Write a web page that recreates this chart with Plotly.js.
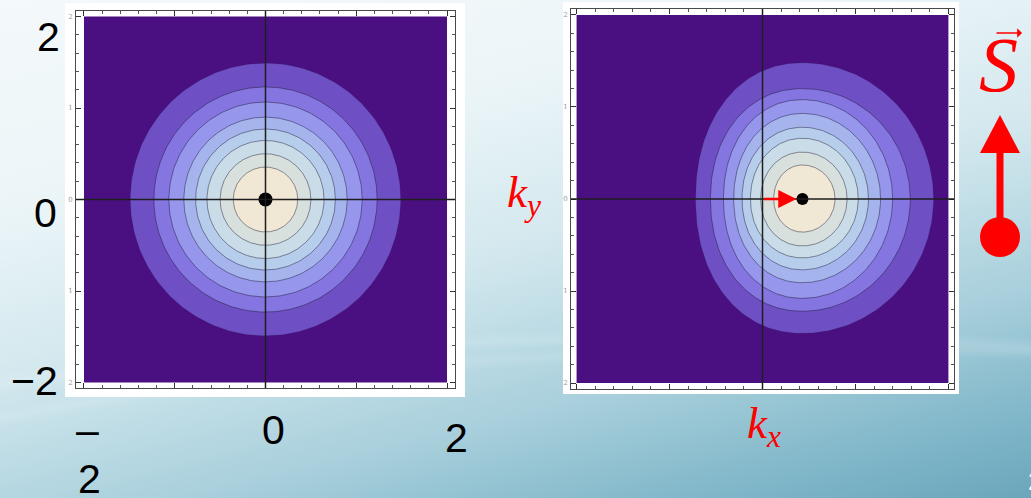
<!DOCTYPE html>
<html>
<head>
<meta charset="utf-8">
<script src="https://cdn.plot.ly/plotly-3.0.1.min.js"></script>
<style>
  html, body { margin: 0; padding: 0; width: 1031px; height: 498px; overflow: hidden; }
  body {
    background:
      radial-gradient(ellipse 1150px 200px at 700px 520px, rgba(255,255,255,0) 87%, rgba(255,255,255,0.13) 91%, rgba(255,255,255,0) 96%),
      radial-gradient(ellipse 1300px 250px at 850px 580px, rgba(255,255,255,0) 89%, rgba(255,255,255,0.10) 92%, rgba(255,255,255,0) 95%),
      linear-gradient(166deg, #f4f9fb 0%, #ebf5f8 28%, #d3e8ee 50%, #a9d0dc 72%, #82b8ca 88%, #6ba6bc 100%);
  }
  #chart { width: 1031px; height: 498px; }
</style>
</head>
<body>
<div id="chart"></div>
<script>
// Momentum-space density k = (kx, ky): filled contour levels, outermost to innermost
const kRange = [-2, 2];
const levelColors = ['#4a1082', '#6e50c4', '#8475e0', '#9696ec', '#a6b4ee', '#b7cdec', '#c9dce8', '#d8e0de', '#f0e7d4'];

// Left panel: unshifted distribution, circular contours about the origin
const leftCentre = [0, 0];
const leftRadii = [1.49, 1.23, 1.065, 0.90, 0.77, 0.645, 0.50, 0.355];

// Right panel: distribution shifted along kx, contour extents per level
const rightCentre = [0.43, 0];
const rightLeft   = [-0.72, -0.56, -0.42, -0.31, -0.22, -0.13, -0.02, 0.12];
const rightRight  = [1.84, 1.59, 1.40, 1.27, 1.14, 1.03, 0.91, 0.78];
const rightTop    = [1.48, 1.20, 1.08, 0.93, 0.78, 0.66, 0.51, 0.37];
const rightBottom = [-1.46, -1.22, -1.08, -0.91, -0.77, -0.64, -0.51, -0.36];

// Frame ticks and the large slide tick labels
const frameTicks = [-2, -1, 0, 1, 2];
const slideYLabels = ['2', '0', '\u22122'];
const slideXLabels = ['\u2013', '2', '0', '2'];

const W = 1031, H = 498;
const px = x => x / W;
const py = y => 1 - y / H;

// closed contour: elliptical on the right half, slightly squared on the left half
function contour(cx, cy, xl, xr, yt, yb, nLeft) {
  const xs = [], ys = [];
  const N = 240;
  for (let i = 0; i <= N; i++) {
    const t = 2 * Math.PI * i / N;
    const c = Math.cos(t), s = Math.sin(t);
    let x, y;
    if (c >= 0) {
      x = cx + (xr - cx) * c;
      y = cy + (s >= 0 ? (yt - cy) : (cy - yb)) * s;
    } else {
      const e = 2 / nLeft;
      x = cx - (cx - xl) * Math.pow(-c, e);
      y = cy + (s >= 0 ? (yt - cy) : -(cy - yb)) * Math.pow(Math.abs(s), e);
    }
    xs.push(x); ys.push(y);
  }
  return { xs, ys };
}

const traces = [];
const lineStyle = { color: 'rgba(25,20,45,0.45)', width: 1 };

function addPanel(xa, ya, rings, centre, dotSize) {
  traces.push({
    type: 'scatter', mode: 'lines', xaxis: xa, yaxis: ya,
    x: [kRange[0], kRange[1], kRange[1], kRange[0], kRange[0]],
    y: [kRange[0], kRange[0], kRange[1], kRange[1], kRange[0]],
    fill: 'toself', fillcolor: levelColors[0], line: { width: 0 }, hoverinfo: 'skip'
  });
  rings.forEach((r, i) => {
    traces.push({
      type: 'scatter', mode: 'lines', xaxis: xa, yaxis: ya,
      x: r.xs, y: r.ys, fill: 'toself', fillcolor: levelColors[i + 1],
      line: i === 0 ? { color: 'rgba(25,20,45,0.18)', width: 1 } : lineStyle,
      hoverinfo: 'skip'
    });
  });
  traces.push({
    type: 'scatter', mode: 'markers', xaxis: xa, yaxis: ya,
    x: [centre[0]], y: [centre[1]],
    marker: { color: '#000', size: dotSize }, hoverinfo: 'skip'
  });
}

const leftRings = leftRadii.map(r =>
  contour(leftCentre[0], leftCentre[1], leftCentre[0] - r, leftCentre[0] + r, leftCentre[1] + r, leftCentre[1] - r, 2));
const rightRings = rightLeft.map((xl, i) =>
  contour(rightCentre[0], rightCentre[1], xl, rightRight[i], rightTop[i], rightBottom[i], 2.14 - 0.015 * i));

addPanel('x', 'y', leftRings, leftCentre, 14);
addPanel('x2', 'y2', rightRings, rightCentre, 12);

function frameAxis(domain, half, anchor, labels) {
  return {
    domain: domain, range: [-half, half], anchor: anchor,
    showgrid: false, zeroline: false,
    showline: true, mirror: 'allticks', linecolor: '#4a4a4a', linewidth: 1,
    ticks: 'inside', ticklen: 5, tickwidth: 1, tickcolor: '#333',
    tickmode: 'array', tickvals: frameTicks,
    showticklabels: labels, ticktext: frameTicks.map(v => String(Math.abs(v))),
    tickfont: { family: 'DejaVu Serif, serif', size: 7, color: '#9a9a9a' }, ticklabelstandoff: 1,
    minor: { ticks: 'inside', ticklen: 3, tickcolor: '#555', tickwidth: 1, dtick: 0.2, tick0: 0 },
    fixedrange: true
  };
}

const layout = {
  width: W, height: H,
  margin: { l: 0, r: 0, t: 0, b: 0 },
  paper_bgcolor: 'rgba(0,0,0,0)',
  plot_bgcolor: '#ffffff',
  showlegend: false,
  xaxis:  frameAxis([px(76), px(455)], 2.088, 'y', false),
  yaxis:  frameAxis([py(388), py(11)], 2.06, 'x', true),
  xaxis2: frameAxis([px(571), px(954)], 2.06, 'y2', false),
  yaxis2: frameAxis([py(389), py(9)], 2.065, 'x2', true),
  shapes: [
    // white picture backings
    { type: 'rect', xref: 'paper', yref: 'paper', x0: px(65), x1: px(465), y0: py(397), y1: py(3), fillcolor: '#ffffff', line: { width: 0 }, layer: 'below' },
    { type: 'rect', xref: 'paper', yref: 'paper', x0: px(563), x1: px(959), y0: py(394), y1: py(2), fillcolor: '#ffffff', line: { width: 0 }, layer: 'below' },
    // coordinate axes through the origin
    { type: 'line', xref: 'x domain', yref: 'y', x0: 0, x1: 1, y0: 0, y1: 0, line: { color: '#1e1e1e', width: 1.5 } },
    { type: 'line', xref: 'x', yref: 'y domain', x0: 0, x1: 0, y0: 0, y1: 1, line: { color: '#1e1e1e', width: 1.5 } },
    { type: 'line', xref: 'x2 domain', yref: 'y2', x0: 0, x1: 1, y0: 0, y1: 0, line: { color: '#1e1e1e', width: 1.5 } },
    { type: 'line', xref: 'x2', yref: 'y2 domain', x0: 0, x1: 0, y0: 0, y1: 1, line: { color: '#1e1e1e', width: 1.5 } },
    // spin arrow
    { type: 'line', xref: 'paper', yref: 'paper', x0: px(1000), x1: px(1000), y0: py(228), y1: py(148), line: { color: '#ff0000', width: 7 } },
    { type: 'path', xref: 'paper', yref: 'paper', path: 'M ' + px(980) + ' ' + py(153) + ' L ' + px(1020) + ' ' + py(153) + ' L ' + px(1000) + ' ' + py(115) + ' Z', fillcolor: '#ff0000', line: { width: 0 } },
    { type: 'circle', xref: 'paper', yref: 'paper', x0: px(980), x1: px(1020), y0: py(257), y1: py(217), fillcolor: '#ff0000', line: { width: 0 } }
  ],
  annotations: []
};

const bigFont = { family: 'Liberation Sans, Arial, sans-serif', size: 41, color: '#000' };
const slideY = [[48, 37], [45, 213], [34, 381]];
slideYLabels.forEach((t, i) => layout.annotations.push({
  xref: 'paper', yref: 'paper', x: px(slideY[i][0]), y: py(slideY[i][1]), text: t,
  showarrow: false, xanchor: 'center', yanchor: 'middle', font: bigFont
}));
const slideX = [[87, 430], [89, 479], [273, 430], [456, 438]];
slideXLabels.forEach((t, i) => layout.annotations.push({
  xref: 'paper', yref: 'paper', x: px(slideX[i][0]), y: py(slideX[i][1]), text: t,
  showarrow: false, xanchor: 'center', yanchor: 'middle', font: bigFont
}));

const redSerif = { family: 'Liberation Serif, DejaVu Serif, serif', color: '#ff0000' };
layout.annotations.push(
  { xref: 'paper', yref: 'paper', x: px(524), y: py(195), text: '<i>k</i><sub><i>y</i></sub>', showarrow: false, xanchor: 'center', yanchor: 'middle', font: Object.assign({ size: 45 }, redSerif) },
  { xref: 'paper', yref: 'paper', x: px(764), y: py(426), text: '<i>k</i><sub><i>x</i></sub>', showarrow: false, xanchor: 'center', yanchor: 'middle', font: Object.assign({ size: 45 }, redSerif) },
  { xref: 'paper', yref: 'paper', x: px(998), y: py(64), text: '<i>S</i>', showarrow: false, xanchor: 'center', yanchor: 'middle', font: Object.assign({ size: 78 }, redSerif) },
  { xref: 'paper', yref: 'paper', x: px(1022), y: py(33), ax: -27, ay: 0, text: '', showarrow: true, arrowhead: 1, arrowsize: 1, arrowwidth: 1.6, arrowcolor: '#ff0000' },
  // shift of the distribution centre along kx
  { xref: 'x2', yref: 'y2', x: rightCentre[0], y: rightCentre[1], axref: 'x2', ayref: 'y2', ax: 0, ay: 0, text: '', showarrow: true, arrowhead: 2, arrowsize: 1.4, arrowwidth: 2.6, arrowcolor: '#ff0000', standoff: 6 },
  // page number
  { xref: 'paper', yref: 'paper', x: px(1026), y: py(481), text: '2', showarrow: false, xanchor: 'left', yanchor: 'middle', font: { family: 'Liberation Sans, Arial, sans-serif', size: 26, color: '#ffffff' } }
);

Plotly.newPlot('chart', traces, layout, { staticPlot: true, displayModeBar: false });
</script>
</body>
</html>
